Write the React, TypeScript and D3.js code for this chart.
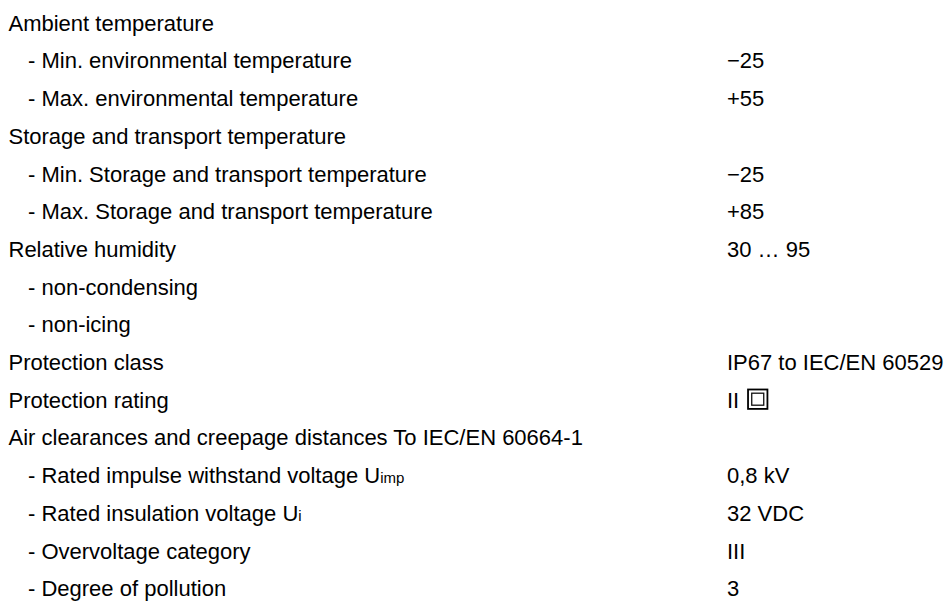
import { useEffect, useRef } from 'react';
import * as d3 from 'd3';

// one entry per table row
const rowLabels: string[] = [
  "Ambient temperature",
  "- Min. environmental temperature",
  "- Max. environmental temperature",
  "Storage and transport temperature",
  "- Min. Storage and transport temperature",
  "- Max. Storage and transport temperature",
  "Relative humidity",
  "- non-condensing",
  "- non-icing",
  "Protection class",
  "Protection rating",
  "Air clearances and creepage distances To IEC/EN 60664-1",
  "- Rated impulse withstand voltage U",
  "- Rated insulation voltage U",
  "- Overvoltage category",
  "- Degree of pollution",
];

const rowSubscripts: string[] = ["", "", "", "", "", "", "", "", "", "", "", "", "imp", "i", "", ""];

const rowIndent: number[] = [0, 1, 1, 0, 1, 1, 0, 1, 1, 0, 0, 0, 1, 1, 1, 1];

const rowValues: string[] = [
  "",
  "\u221225",
  "+55",
  "",
  "\u221225",
  "+85",
  "30 \u2026 95",
  "",
  "",
  "IP67 to IEC/EN 60529",
  "II",
  "",
  "0,8 kV",
  "32 VDC",
  "III",
  "3",
];

// rows that get the double-insulation symbol after the value
const doubleInsulated: boolean[] = rowValues.map((v, i) => rowLabels[i] === "Protection rating");

function App() {
  const svgRef = useRef<SVGSVGElement>(null);

  useEffect(() => {
    if (!svgRef.current) return;
    document.body.style.margin = "0";

    const width = 946;
    const height = 601;
    const font = "'Liberation Sans', Arial, Helvetica, sans-serif";

    const svg = d3.select(svgRef.current);
    svg.selectAll("*").remove();
    svg.attr("width", width).attr("height", height);

    svg.append("rect")
      .attr("width", width)
      .attr("height", height)
      .attr("fill", "#fff");

    // row baselines
    const y = d3.scaleLinear()
      .domain([0, rowLabels.length - 1])
      .range([30.7, 596.2]);

    // indent level -> x
    const x = d3.scaleLinear().domain([0, 1]).range([8.5, 28]);
    const valueX = 727;

    const rows = svg.append("g")
      .attr("font-family", font)
      .attr("font-size", 22)
      .attr("fill", "#000");

    rowLabels.forEach((label, i) => {
      const t = rows.append("text")
        .attr("x", x(rowIndent[i]))
        .attr("y", y(i));
      t.append("tspan").text(label);
      if (rowSubscripts[i]) {
        t.append("tspan")
          .attr("font-size", 15)
          .text(rowSubscripts[i]);
      }

      if (rowValues[i]) {
        const v = rows.append("text")
          .attr("x", valueX)
          .attr("y", y(i))
          .text(rowValues[i]);

        if (doubleInsulated[i]) {
          const w = (v.node() as SVGTextElement).getComputedTextLength();
          const sx = valueX + w + 8;
          const size = 21;
          const sy = y(i) - size + 2;
          rows.append("rect")
            .attr("x", sx + 0.8)
            .attr("y", sy + 0.8)
            .attr("width", size - 1.6)
            .attr("height", size - 1.6)
            .attr("fill", "none")
            .attr("stroke", "#000")
            .attr("stroke-width", 1.8);
          rows.append("rect")
            .attr("x", sx + 4.5)
            .attr("y", sy + 4.5)
            .attr("width", size - 9)
            .attr("height", size - 9)
            .attr("fill", "none")
            .attr("stroke", "#111")
            .attr("stroke-width", 1.3);
        }
      }
    });
  }, []);

  return (
    <div>
      <svg ref={svgRef} style={{ display: 'block', position: 'absolute', left: 0, top: 0 }}></svg>
    </div>
  );
}

export default App;
